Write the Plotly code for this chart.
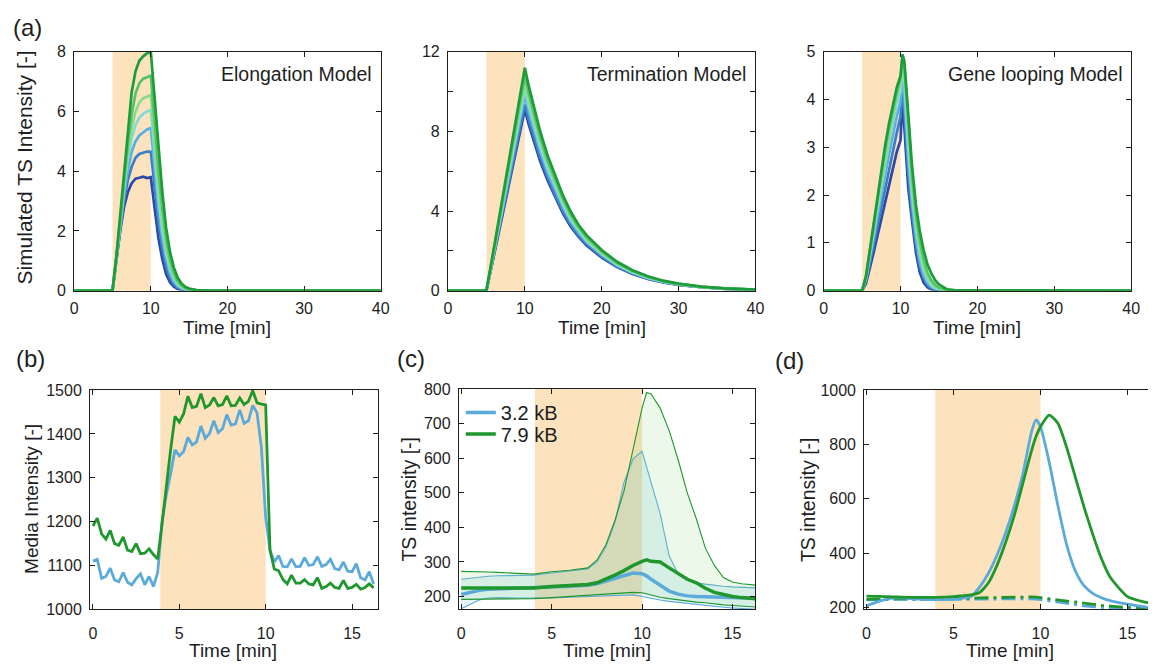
import plotly.graph_objects as go

W, H = 1157, 671
FONT = "Liberation Sans, Arial, sans-serif"
INK = "#1e1e1e"
SHADE = "#FDE2BE"
BLUE = "#5BAADA"
GREEN = "#1F972D"
# dark blue -> dark green, shortest to longest construct
SIM_COLORS = ["#2D48A5", "#3E7CC6", "#58AFE3", "#86D9D2", "#8CDB8D", "#55C466", "#1E9C3C"]

# ---------------- (a) simulated TS intensity, three models ----------------
T_ELONG = [0, 5, 5.5, 6, 6.5, 7, 7.5, 8, 8.5, 9, 9.5, 10, 10.5, 11, 11.5, 12,
           12.5, 13, 13.5, 14, 14.5, 15, 16, 17, 18, 40]
ELONG_1 = [0, 0, 1.0, 2.0, 2.8, 3.3, 3.6, 3.75, 3.78, 3.82, 3.77, 3.8, 2.75, 1.75, 1.05, 0.55,
           0.28, 0.13, 0.06, 0.03, 0.01, 0, 0, 0, 0, 0]
ELONG_2 = [0, 0, 1.05, 2.1, 3.0, 3.7, 4.15, 4.45, 4.58, 4.62, 4.66, 4.65, 3.4, 2.25, 1.4, 0.8,
           0.42, 0.2, 0.1, 0.05, 0.02, 0.01, 0, 0, 0, 0]
ELONG_3 = [0, 0, 1.05, 2.2, 3.2, 4.05, 4.65, 5.0, 5.2, 5.3, 5.4, 5.45, 4.0, 2.7, 1.75, 1.05,
           0.57, 0.29, 0.14, 0.07, 0.03, 0.015, 0, 0, 0, 0]
ELONG_4 = [0, 0, 1.1, 2.3, 3.4, 4.4, 5.1, 5.55, 5.8, 5.92, 6.0, 6.05, 4.5, 3.1, 2.05, 1.25,
           0.72, 0.38, 0.2, 0.1, 0.05, 0.02, 0.01, 0, 0, 0]
ELONG_5 = [0, 0, 1.1, 2.35, 3.55, 4.65, 5.45, 6.0, 6.3, 6.45, 6.5, 6.55, 5.0, 3.5, 2.35, 1.45,
           0.85, 0.47, 0.25, 0.13, 0.07, 0.03, 0.01, 0, 0, 0]
ELONG_6 = [0, 0, 1.1, 2.4, 3.7, 4.9, 5.9, 6.6, 6.95, 7.1, 7.15, 7.2, 5.6, 4.0, 2.75, 1.75,
           1.05, 0.58, 0.32, 0.17, 0.09, 0.04, 0.01, 0, 0, 0]
ELONG_7 = [0, 0, 1.15, 2.5, 3.95, 5.4, 6.65, 7.35, 7.7, 7.85, 7.95, 8.0, 6.5, 4.85, 3.3, 2.1,
           1.3, 0.78, 0.44, 0.24, 0.13, 0.07, 0.02, 0.01, 0, 0]

T_TERM = [0, 5, 6, 7, 8, 9, 10, 10.5, 11, 11.5, 12, 13, 14, 15, 16, 17, 18, 20, 22, 24,
          26, 28, 30, 33, 36, 40]
TERM_1 = [0, 0, 1.8, 3.65, 5.45, 7.3, 9.1, 8.35, 7.7, 7.05, 6.5, 5.5, 4.65, 3.85, 3.2, 2.7,
          2.28, 1.66, 1.18, 0.84, 0.59, 0.41, 0.29, 0.17, 0.09, 0.04]
TERM_2 = [0, 0, 1.85, 3.75, 5.6, 7.5, 9.35, 8.6, 7.95, 7.25, 6.7, 5.65, 4.75, 3.95, 3.3, 2.75,
          2.35, 1.7, 1.2, 0.86, 0.6, 0.42, 0.29, 0.17, 0.09, 0.04]
TERM_3 = [0, 0, 1.95, 3.9, 5.85, 7.85, 9.8, 9.0, 8.3, 7.6, 7.0, 5.9, 5.0, 4.15, 3.45, 2.9,
          2.45, 1.8, 1.27, 0.9, 0.63, 0.44, 0.31, 0.18, 0.1, 0.04]
TERM_4 = [0, 0, 2.0, 4.0, 6.05, 8.1, 10.1, 9.3, 8.55, 7.85, 7.2, 6.1, 5.15, 4.3, 3.55, 3.0,
          2.5, 1.85, 1.3, 0.93, 0.65, 0.45, 0.32, 0.18, 0.1, 0.05]
TERM_5 = [0, 0, 2.05, 4.2, 6.3, 8.4, 10.5, 9.65, 8.9, 8.15, 7.5, 6.35, 5.35, 4.45, 3.7, 3.1,
          2.6, 1.9, 1.36, 0.97, 0.68, 0.47, 0.33, 0.19, 0.1, 0.05]
TERM_6 = [0, 0, 2.1, 4.3, 6.45, 8.65, 10.8, 9.95, 9.15, 8.4, 7.7, 6.5, 5.5, 4.6, 3.8, 3.2,
          2.7, 1.97, 1.4, 1.0, 0.7, 0.48, 0.34, 0.19, 0.11, 0.05]
TERM_7 = [0, 0, 2.2, 4.45, 6.7, 8.95, 11.2, 10.3, 9.5, 8.7, 8.0, 6.75, 5.7, 4.75, 3.95, 3.3,
          2.8, 2.04, 1.45, 1.03, 0.72, 0.5, 0.35, 0.2, 0.11, 0.05]

T_LOOP = [0, 5, 5.5, 6, 6.5, 7, 7.5, 8, 8.5, 9, 9.5, 10, 10.25, 10.5, 11, 11.5, 12, 12.5,
          13, 13.5, 14, 14.5, 15, 16, 17, 40]
LOOP_1 = [0, 0, 0.15, 0.45, 0.8, 1.15, 1.5, 1.85, 2.2, 2.55, 2.9, 3.15, 4.1, 3.4, 2.15, 1.45,
          0.8, 0.38, 0.17, 0.07, 0.03, 0.01, 0, 0, 0, 0]
LOOP_2 = [0, 0, 0.2, 0.55, 0.95, 1.35, 1.75, 2.15, 2.55, 2.9, 3.3, 3.65, 4.35, 3.75, 2.45, 1.6,
          0.95, 0.5, 0.25, 0.11, 0.05, 0.02, 0.01, 0, 0, 0]
LOOP_3 = [0, 0, 0.25, 0.65, 1.1, 1.55, 2.0, 2.45, 2.85, 3.25, 3.65, 3.95, 4.5, 4.05, 2.75, 1.8,
          1.1, 0.6, 0.32, 0.16, 0.08, 0.04, 0.02, 0, 0, 0]
LOOP_4 = [0, 0, 0.25, 0.7, 1.2, 1.7, 2.2, 2.65, 3.1, 3.5, 3.9, 4.2, 4.7, 4.35, 3.0, 2.0,
          1.3, 0.75, 0.42, 0.22, 0.11, 0.05, 0.03, 0.01, 0, 0]
LOOP_5 = [0, 0, 0.28, 0.75, 1.3, 1.8, 2.3, 2.8, 3.25, 3.65, 4.05, 4.35, 4.8, 4.55, 3.3, 2.2,
          1.45, 0.9, 0.52, 0.3, 0.16, 0.08, 0.04, 0.01, 0, 0]
LOOP_6 = [0, 0, 0.3, 0.8, 1.35, 1.9, 2.45, 2.95, 3.4, 3.8, 4.15, 4.45, 4.9, 4.7, 3.5, 2.4,
          1.6, 1.05, 0.65, 0.38, 0.22, 0.12, 0.06, 0.02, 0, 0]
LOOP_7 = [0, 0, 0.3, 0.85, 1.45, 2.0, 2.55, 3.05, 3.5, 3.9, 4.25, 4.5, 4.95, 4.8, 3.7, 2.6,
          1.8, 1.25, 0.85, 0.55, 0.36, 0.22, 0.13, 0.03, 0.01, 0]

# ---------------- (b) media intensity ----------------
T_MEDIA = [0, 0.25, 0.5, 0.75, 1, 1.25, 1.5, 1.75,
           2, 2.25, 2.5, 2.75, 3, 3.25, 3.5, 3.75,
           4, 4.25, 4.5, 4.75, 5, 5.25, 5.5, 5.75,
           6, 6.25, 6.5, 6.75, 7, 7.25, 7.5, 7.75,
           8, 8.25, 8.5, 8.75, 9, 9.25, 9.5, 9.75,
           10, 10.25, 10.5, 10.75, 11, 11.25, 11.5, 11.75,
           12, 12.25, 12.5, 12.75, 13, 13.25, 13.5, 13.75,
           14, 14.25, 14.5, 14.75, 15, 15.25, 15.5, 15.75,
           16, 16.25]
MEDIA_32 = [1110, 1114, 1071, 1075, 1094, 1067, 1063, 1084,
            1062, 1056, 1070, 1081, 1056, 1075, 1052, 1084,
            1200, 1262, 1310, 1364, 1350, 1360, 1392, 1375,
            1382, 1418, 1390, 1401, 1430, 1403, 1412, 1444,
            1420, 1423, 1455, 1424, 1430, 1465, 1448, 1370,
            1210, 1135, 1108, 1123, 1098, 1097, 1115, 1097,
            1098, 1118, 1100, 1102, 1120, 1098, 1102, 1114,
            1093, 1090, 1108, 1087, 1086, 1104, 1072, 1067,
            1086, 1058]
MEDIA_79 = [1190, 1208, 1172, 1160, 1180, 1150, 1146, 1165,
            1135, 1132, 1150, 1127, 1128, 1138, 1125, 1115,
            1195, 1285, 1365, 1440, 1427, 1446, 1486, 1460,
            1463, 1492, 1460, 1466, 1483, 1464, 1467, 1487,
            1464, 1465, 1482, 1467, 1474, 1499, 1471, 1468,
            1466, 1135, 1092, 1088, 1068, 1058, 1078, 1060,
            1060, 1068, 1058, 1056, 1072, 1048, 1052, 1060,
            1050, 1048, 1066, 1048, 1050, 1057, 1046, 1050,
            1058, 1049]

# ---------------- (c) measured TS intensity, mean and band ----------------
T_TS = [0, 0.5, 1, 1.5, 2, 3, 4, 5, 6, 7, 7.5, 8, 8.5, 9, 9.5, 10, 10.25, 10.5,
        11, 11.5, 12, 12.5, 13, 13.5, 14, 14.5, 15, 15.5, 16.3]
TS32_MEAN = [206, 212, 218, 221, 222, 223, 224, 228, 230, 233, 237, 245, 252, 260, 268, 266,
             260, 250, 232, 216, 207, 202, 200, 199, 198, 197, 196, 195, 195]
TS32_LO = [165, 178, 190, 196, 197, 196, 195, 196, 198, 200, 202, 204, 205, 206, 205, 200,
           197, 194, 190, 186, 183, 180, 176, 173, 171, 169, 167, 165, 163]
TS32_HI = [250, 253, 257, 259, 260, 260, 262, 268, 273, 280, 300, 343, 415, 530, 598, 620,
           575, 530, 440, 318, 264, 248, 240, 236, 232, 230, 228, 226, 225]
TS79_MEAN = [225, 225, 224, 224, 224, 224, 225, 229, 232, 235, 240, 250, 262, 275, 290, 302,
             306, 302, 300, 283, 265, 250, 240, 224, 212, 205, 200, 197, 194]
TS79_LO = [192, 192, 192, 192, 193, 193, 194, 197, 200, 203, 204, 206, 208, 210, 212, 211,
           208, 203, 198, 194, 190, 187, 184, 182, 178, 176, 174, 172, 170]
TS79_HI = [273, 273, 272, 271, 270, 267, 265, 272, 276, 283, 305, 350, 420, 505, 630, 745,
           790, 786, 745, 680, 595, 500, 425, 340, 290, 255, 242, 237, 233]

# ---------------- (d) model fits ----------------
T_FIT = [0, 0.5, 1, 1.5, 2, 3, 4, 5, 5.5, 6, 6.5, 7, 7.5, 8, 8.5, 9, 9.5, 9.75, 10,
         10.5, 11, 11.5, 12, 12.5, 13, 13.5, 14, 15, 16, 16.5]
FIT32 = [206, 218, 228, 234, 235, 231, 229, 231, 234, 240, 275, 325, 392, 475, 575, 695, 850,
         890, 865, 735, 575, 432, 335, 280, 252, 236, 225, 212, 202, 198]
FIT79 = [242, 241, 240, 239, 238, 237, 237, 240, 243, 246, 255, 290, 355, 440, 540, 660, 780,
         830, 865, 908, 878, 790, 680, 570, 470, 380, 312, 240, 220, 215]
FIT32_ALT = [228, 229, 230, 230, 230, 229, 229, 229, 229, 230, 230, 231, 231, 232, 232, 232, 232,
             231, 229, 224, 219, 214, 210, 206, 203, 200, 197, 192, 188, 186]
FIT79_ALT = [230, 231, 231, 231, 232, 232, 232, 233, 233, 234, 235, 236, 237, 238, 238, 239, 239,
             238, 236, 231, 226, 222, 218, 214, 211, 208, 205, 199, 195, 193]

# stimulus windows (minutes)
STIM_A = (5, 10)
STIM_B = (3.9, 10.0)
STIM_C = (4.08, 10.0)
STIM_D = (3.95, 10.0)

ELONG = [ELONG_1, ELONG_2, ELONG_3, ELONG_4, ELONG_5, ELONG_6, ELONG_7]
TERM = [TERM_1, TERM_2, TERM_3, TERM_4, TERM_5, TERM_6, TERM_7]
LOOP = [LOOP_1, LOOP_2, LOOP_3, LOOP_4, LOOP_5, LOOP_6, LOOP_7]


def dom_x(a, b):
    return [a / W, b / W]


def dom_y(top, bottom):
    return [1 - bottom / H, 1 - top / H]


fig = go.Figure()


def add_line(ax, x, y, color, width, dash="solid", name=None, legend=None,
             fill=None, fillcolor=None, shape="linear"):
    fig.add_trace(go.Scatter(
        x=x, y=y, mode="lines",
        line=dict(color=color, width=width, dash=dash, shape=shape, smoothing=0.6),
        xaxis="x" + ax, yaxis="y" + ax, name=name, showlegend=legend is not None,
        legend=legend or "legend", hoverinfo="skip", fill=fill, fillcolor=fillcolor))


for ax, t, curves in (("", T_ELONG, ELONG), ("2", T_TERM, TERM), ("3", T_LOOP, LOOP)):
    for col, y in zip(SIM_COLORS, curves):
        add_line(ax, t, y, col, 2.7)

add_line("4", T_MEDIA, MEDIA_32, BLUE, 2.8)
add_line("4", T_MEDIA, MEDIA_79, GREEN, 2.8)

add_line("5", T_TS, TS32_LO, BLUE, 1.1)
add_line("5", T_TS, TS32_HI, BLUE, 1.1, fill="tonexty", fillcolor="rgba(110,200,235,0.18)")
add_line("5", T_TS, TS79_LO, GREEN, 1.1)
add_line("5", T_TS, TS79_HI, GREEN, 1.1, fill="tonexty", fillcolor="rgba(120,205,100,0.14)")
add_line("5", T_TS, TS32_MEAN, BLUE, 3.5, name="3.2 kB", legend="legend")
add_line("5", T_TS, TS79_MEAN, GREEN, 3.5, name="7.9 kB", legend="legend2")

add_line("6", T_FIT, FIT32_ALT, BLUE, 2.8, dash="14px,5px,3px,5px")
add_line("6", T_FIT, FIT79_ALT, GREEN, 2.8, dash="14px,5px,3px,5px")
add_line("6", T_FIT, FIT32, BLUE, 2.8, shape="spline")
add_line("6", T_FIT, FIT79, GREEN, 2.8, shape="spline")

# axes: (suffix, x px span, y px span, x range, y range, x ticks, y ticks, y tick text,
#        y mirror, x tick label standoff)
PANELS = [
    ("", (71, 381), (45, 290), [0, 40], [0, 8], [0, 10, 20, 30, 40], [0, 2, 4, 6, 8], None,
     "ticks", 3),
    ("2", (449, 760), (45, 290), [0, 40], [0, 12], [0, 10, 20, 30, 40],
     [0, 2, 4, 6, 8, 10, 12], ["0", "", "4", "", "8", "", "12"], "ticks", 3),
    ("3", (829, 1140), (45, 290), [0, 40], [0, 5], [0, 10, 20, 30, 40], [0, 1, 2, 3, 4, 5], None,
     "ticks", 3),
    ("4", (87, 378), (392, 617), [-0.17, 16.49], [1000, 1500], [0, 5, 10, 15],
     [1000, 1100, 1200, 1300, 1400, 1500], None, "ticks", 9),
    ("5", (460, 760), (391, 617), [-0.13, 16.27], [163, 800], [0, 5, 10, 15],
     [200, 300, 400, 500, 600, 700, 800], None, "ticks", 9),
    ("6", (870, 1157), (392, 617), [-0.13, 16.18], [193, 1000], [0, 5, 10, 15],
     [200, 400, 600, 800, 1000], None, False, 9),
]

common = dict(showline=True, linecolor=INK, linewidth=1, ticks="inside", ticklen=5,
              tickcolor=INK, tickwidth=1, showgrid=False, zeroline=False,
              tickfont=dict(family=FONT, size=16, color=INK), fixedrange=True)

layout = {}
for sfx, xs, ys, xr, yr, xt, yt, ytxt, ymirror, xstand in PANELS:
    layout["xaxis" + sfx] = dict(common, domain=dom_x(*xs), range=xr, tickvals=xt,
                                 anchor="y" + sfx, mirror="ticks", ticklabelstandoff=xstand)
    yax = dict(common, domain=dom_y(*ys), range=yr, tickvals=yt, anchor="x" + sfx,
               mirror=ymirror, ticklabelstandoff=4)
    if ytxt:
        yax["ticktext"] = ytxt
    layout["yaxis" + sfx] = yax

shapes = []
for sfx, (a, b) in (("", STIM_A), ("2", STIM_A), ("3", STIM_A),
                    ("4", STIM_B), ("5", STIM_C), ("6", STIM_D)):
    shapes.append(dict(type="rect", xref="x" + sfx, yref="y" + sfx + " domain",
                       x0=a, x1=b, y0=0, y1=1, fillcolor=SHADE, line=dict(width=0),
                       layer="below"))


def note(text, px, py, size, angle=0, xanchor="center"):
    return dict(text=text, x=px / W, y=1 - py / H, xref="paper", yref="paper",
                showarrow=False, xanchor=xanchor, yanchor="middle", textangle=angle,
                font=dict(family=FONT, size=size, color=INK))


annotations = [
    note("(a)", 24, 20, 24), note("(b)", 27, 360, 24), note("(c)", 412, 360, 24),
    note("(d)", 794, 362, 24),
    note("Elongation Model", 374, 68, 19.5, xanchor="right"),
    note("Termination Model", 752, 68, 19.5, xanchor="right"),
    note("Gene looping Model", 1134, 68, 19.5, xanchor="right"),
    note("Time [min]", 226, 328, 19), note("Time [min]", 605, 328, 19),
    note("Time [min]", 984, 328, 19),
    note("Time [min]", 232, 659, 19), note("Time [min]", 610, 659, 19),
    note("Time [min]", 1017, 659, 19),
    note("Simulated TS Intensity [-]", 21, 164, 21, angle=-90),
    note("Media Intensity [-]", 28, 504, 19, angle=-90),
    note("TS intensity [-]", 410, 504, 19.5, angle=-90),
    note("TS intensity [-]", 813, 504, 19.5, angle=-90),
]

legend_style = dict(xanchor="left", yanchor="middle", bgcolor="rgba(0,0,0,0)",
                    font=dict(family=FONT, size=20, color=INK), itemwidth=30,
                    borderwidth=0)

fig.update_layout(
    width=W, height=H, autosize=False,
    margin=dict(l=0, r=0, t=0, b=0),
    paper_bgcolor="white", plot_bgcolor="white",
    font=dict(family=FONT, color=INK),
    shapes=shapes, annotations=annotations,
    legend=dict(legend_style, x=462 / W, y=1 - 415 / H),
    legend2=dict(legend_style, x=462 / W, y=1 - 437 / H),
    **layout,
)

fig.write_html("out.html")
